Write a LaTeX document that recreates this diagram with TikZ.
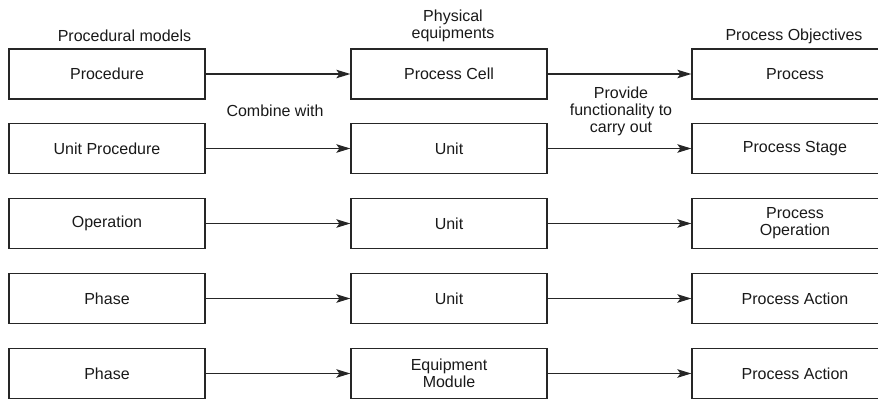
\documentclass[tikz,border=0pt]{standalone}
\usepackage{fontspec}
\setmainfont{Liberation Sans}
\usetikzlibrary{arrows.meta}
\begin{document}
\begin{tikzpicture}[x=1pt,y=-1pt,
  every node/.style={font=\fontsize{16}{17}\selectfont, text=black!90, inner sep=0pt},
  box/.style={draw=black!85, line width=1.3pt, minimum height=50pt, align=center},
  lbox/.style={box, minimum width=196pt},
  rbox/.style={box, minimum width=206pt},
  conn/.style={draw=black!85, line width=1.2pt, -{Stealth[length=14pt,width=8.5pt,inset=3pt]}},
  lbl/.style={align=center}]
\useasboundingbox (0,0) rectangle (878,399);
\begin{scope}
\clip (0,0) rectangle (878,399);
% left column
\node[lbox] (l1) at (107,74) {Procedure};
\node[lbox] (l2) at (107,148.5) {Unit Procedure};
\node[lbox] (l3) at (107,223.5) {Operation};
\node[lbox] (l4) at (107,298.5) {Phase};
\node[lbox] (l5) at (107,373.5) {Phase};
% middle column
\node[lbox] (m1) at (449,74) {Process Cell};
\node[lbox] (m2) at (449,148.5) {Unit};
\node[lbox] (m3) at (449,223.5) {Unit};
\node[lbox] (m4) at (449,298.5) {Unit};
\node[lbox] (m5) at (449,373.5) {Equipment\\Module};
% right column
\node[rbox] (r1) at (795,74) {Process};
\node[rbox] (r2) at (795,148.5) {Process Stage};
\node[rbox] (r3) at (795,223.5) {Process\\Operation};
\node[rbox] (r4) at (795,298.5) {Process Action};
\node[rbox] (r5) at (795,373.5) {Process Action};
\end{scope}
% headers
\node[lbl] (h1) at (124.5,36) {Procedural models};
\node[lbl] (h2) at (453,26) {Physical\\equipments};
\node[lbl] (h3) at (794,36) {Process Objectives};
\node[lbl] (c1) at (275,111) {Combine with};
\node[lbl] (c2) at (621,111) {Provide\\functionality to\\carry out};
% connectors
\foreach \i in {1,...,5}{
  \draw[conn] (l\i) -- (m\i);
  \draw[conn] (m\i) -- (r\i);
}
\end{tikzpicture}
\end{document}
